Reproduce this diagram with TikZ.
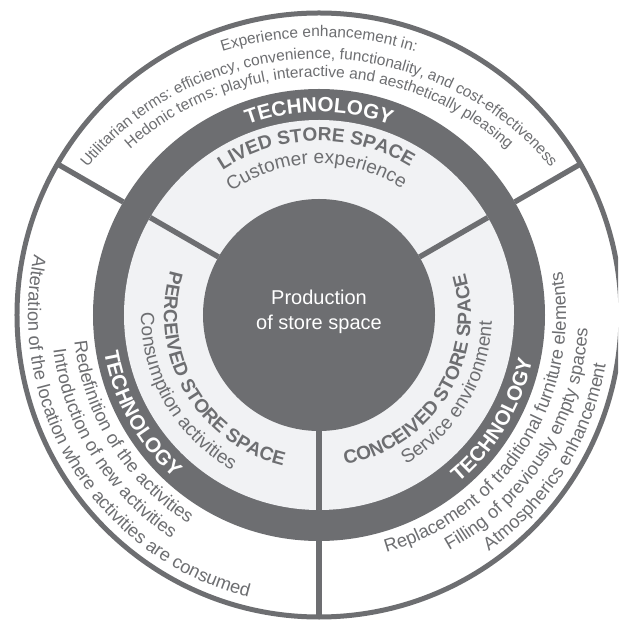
\documentclass[tikz,border=0pt]{standalone}
\usepackage{fontspec}
\setmainfont{Liberation Sans}
\usetikzlibrary{decorations.text}

\definecolor{ringgrey}{HTML}{6D6E71}
\definecolor{spacegrey}{HTML}{F1F2F4}

% fonts for the labels on the rings
\newcommand\outertxt{\fontsize{11.6}{14}\selectfont\color{ringgrey}}
\newcommand\sidetxt{\fontsize{13.7}{16}\selectfont\color{ringgrey}}
\newcommand\titletxt{\fontsize{14.3}{17}\selectfont\bfseries\color{ringgrey}}
\newcommand\subtxt{\fontsize{14.3}{17}\selectfont\color{ringgrey}}
\newcommand\techtxt{\fontsize{15.5}{18}\selectfont\bfseries\color{white}}

% label running clockwise round the centre (tops outwards)
% #1 centre angle, #2 radius, #3 font, #4 text
\newcommand\cwlabel[4]{%
  \path[decorate,decoration={text along path,text align=center,text={|#3|#4}}]
    (#1+70:#2) arc[start angle=#1+70,end angle=#1-70,radius=#2];}
% label running counter clockwise (tops inwards)
\newcommand\ccwlabel[4]{%
  \path[decorate,decoration={text along path,text align=center,text={|#3|#4}}]
    (#1-70:#2) arc[start angle=#1-70,end angle=#1+70,radius=#2];}

\tikzset{
  rim/.style={draw=ringgrey,line width=3.75pt},
  divider/.style={draw=ringgrey,line width=4pt},
}

\begin{document}
\begin{tikzpicture}[x=0.75pt,y=0.75pt]

 \path[use as bounding box] (-319,-305) rectangle (299,315);
 \clip (-319,-305) rectangle (299,315);

 % outer white ring
 \draw[rim,fill=white] (0,0) circle[radius=302];
 % technology ring
 \fill[ringgrey] (0,0) circle[radius=226];
 % the three store spaces
 \fill[spacegrey] (0,0) circle[radius=195];
 % production in the middle
 \fill[ringgrey] (0,0) circle[radius=116];

 % split the rings in three parts
 \foreach \a in {30,150,270} {
  \draw[divider] (\a:116) -- (\a:195);
  \draw[divider] (\a:226) -- (\a:302);
 }

 \node[text=white,
  font=\fontsize{15}{18.75}\selectfont,
  align=center] (core) at (0,3) {Production\\of store space};

 % technology on the dark ring
 \cwlabel{90}{203}{\techtxt}{TECHNOLOGY}
 \ccwlabel{209}{218}{\techtxt}{TECHNOLOGY}
 \ccwlabel{-31}{218}{\techtxt}{TECHNOLOGY}

 % lived / perceived / conceived
 \cwlabel{91}{174}{\titletxt}{LIVED STORE SPACE}
 \cwlabel{91}{151}{\subtxt}{Customer experience}
 \ccwlabel{210}{155}{\titletxt}{PERCEIVED STORE SPACE}
 \ccwlabel{210}{178}{\subtxt}{Consumption activities}
 \ccwlabel{-32}{152}{\titletxt}{CONCEIVED STORE SPACE}
 \ccwlabel{-31}{173}{\subtxt}{Service environment}

 % experience enhancement (flatter arcs)
 \begin{scope}[shift={(0,-45)}]
  \cwlabel{90}{323}{\outertxt}{Experience enhancement in:}
  \cwlabel{90}{301}{\outertxt}{Utilitarian terms: efficiency, convenience, functionality, and cost-effectiveness}
  \cwlabel{90}{283}{\outertxt}{Hedonic terms: playful, interactive and aesthetically pleasing}
 \end{scope}

 % activities
 \ccwlabel{212}{246}{\sidetxt}{Redefinition of the activities}
 \ccwlabel{212}{268}{\sidetxt}{Introduction of new activities}
 \ccwlabel{212}{291}{\sidetxt}{Alteration of the location where activities are consumed}

 % environment
 \ccwlabel{-32}{247}{\sidetxt}{Replacement of traditional furniture elements}
 \ccwlabel{-32}{269}{\sidetxt}{Filling of previously empty spaces}
 \ccwlabel{-32}{291}{\sidetxt}{Atmospherics enhancement}

\end{tikzpicture}
\end{document}
